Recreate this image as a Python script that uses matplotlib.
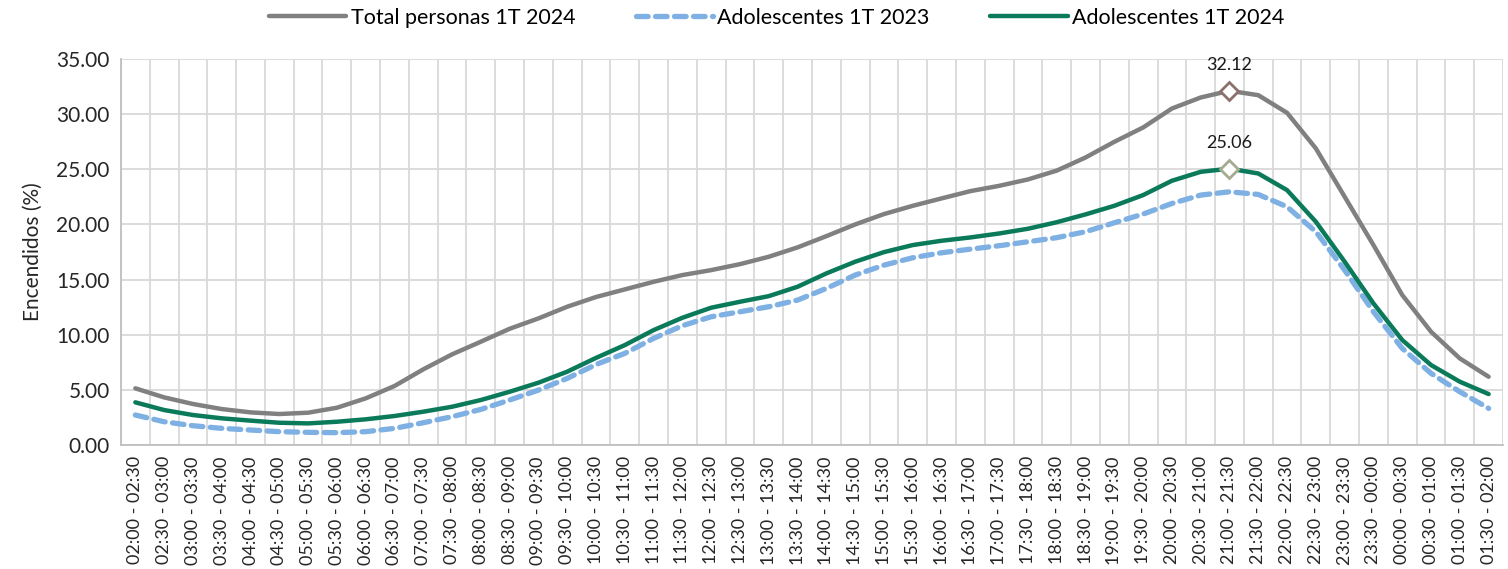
import matplotlib
matplotlib.use('Agg')
import matplotlib.pyplot as plt
from matplotlib.ticker import MultipleLocator, FormatStrFormatter

plt.rcParams['font.family'] = ['Lato', 'DejaVu Sans']

# Franjas horarias de media hora
franjas = [
    '02:00 - 02:30', '02:30 - 03:00', '03:00 - 03:30', '03:30 - 04:00',
    '04:00 - 04:30', '04:30 - 05:00', '05:00 - 05:30', '05:30 - 06:00',
    '06:00 - 06:30', '06:30 - 07:00', '07:00 - 07:30', '07:30 - 08:00',
    '08:00 - 08:30', '08:30 - 09:00', '09:00 - 09:30', '09:30 - 10:00',
    '10:00 - 10:30', '10:30 - 11:00', '11:00 - 11:30', '11:30 - 12:00',
    '12:00 - 12:30', '12:30 - 13:00', '13:00 - 13:30', '13:30 - 14:00',
    '14:00 - 14:30', '14:30 - 15:00', '15:00 - 15:30', '15:30 - 16:00',
    '16:00 - 16:30', '16:30 - 17:00', '17:00 - 17:30', '17:30 - 18:00',
    '18:00 - 18:30', '18:30 - 19:00', '19:00 - 19:30', '19:30 - 20:00',
    '20:00 - 20:30', '20:30 - 21:00', '21:00 - 21:30', '21:30 - 22:00',
    '22:00 - 22:30', '22:30 - 23:00', '23:00 - 23:30', '23:30 - 00:00',
    '00:00 - 00:30', '00:30 - 01:00', '01:00 - 01:30', '01:30 - 02:00',
]

total_2024 = [
    5.14, 4.32, 3.72, 3.26, 2.96, 2.81, 2.93, 3.38, 4.23, 5.35, 6.86, 8.22,
    9.37, 10.54, 11.48, 12.54, 13.42, 14.11, 14.80, 15.41, 15.86, 16.40, 17.07, 17.92,
    18.94, 20.00, 20.94, 21.69, 22.36, 23.02, 23.50, 24.08, 24.88, 26.07, 27.49, 28.79,
    30.51, 31.51, 32.12, 31.72, 30.12, 26.89, 22.51, 18.13, 13.60, 10.27, 7.85, 6.19,
]

adol_2023 = [
    2.72, 2.11, 1.75, 1.51, 1.36, 1.21, 1.15, 1.12, 1.21, 1.51, 2.02, 2.57,
    3.23, 4.08, 4.98, 6.04, 7.30, 8.31, 9.67, 10.82, 11.63, 12.08, 12.54, 13.14,
    14.20, 15.41, 16.31, 16.98, 17.43, 17.76, 18.07, 18.43, 18.80, 19.34, 20.15, 20.94,
    21.90, 22.66, 22.96, 22.72, 21.60, 19.34, 15.86, 12.08, 8.76, 6.50, 4.83, 3.32,
]

adol_2024 = [
    3.87, 3.17, 2.72, 2.42, 2.21, 2.02, 1.96, 2.11, 2.33, 2.63, 3.02, 3.47,
    4.08, 4.83, 5.65, 6.65, 7.90, 9.06, 10.42, 11.54, 12.45, 12.99, 13.50, 14.35,
    15.56, 16.62, 17.49, 18.13, 18.52, 18.82, 19.18, 19.61, 20.20, 20.91, 21.69, 22.66,
    23.96, 24.77, 25.06, 24.62, 23.11, 20.24, 16.62, 12.84, 9.52, 7.25, 5.74, 4.62,
]

x = list(range(len(franjas)))

fig = plt.figure(figsize=(15.08, 5.69), dpi=100)
ax = fig.add_axes([0.0802, 0.2179, 0.9165, 0.6784])

ax.plot(x, total_2024, color='#808080', linewidth=3.2, label='Total personas 1T 2024',
        solid_capstyle='round', zorder=3)
ax.plot(x, adol_2023, color='#7EB0E3', linewidth=3.8, linestyle=(0, (2.2, 1.4)),
        dash_capstyle='round', label='Adolescentes 1T 2023', zorder=3)
ax.plot(x, adol_2024, color='#0A7A5A', linewidth=3.2, label='Adolescentes 1T 2024',
        solid_capstyle='round', zorder=4)

# Marcadores de los máximos
i_max = total_2024.index(max(total_2024))
ax.plot(x[i_max], total_2024[i_max], marker='D', markersize=9, markerfacecolor='white',
        markeredgecolor='#8B706C', markeredgewidth=2.0, zorder=5)
ax.annotate(f'{total_2024[i_max]:.2f}', (x[i_max], total_2024[i_max]), xytext=(0, 13),
            textcoords='offset points', ha='center', va='bottom', fontsize=13, color='#1a1a1a')
j_max = adol_2024.index(max(adol_2024))
ax.plot(x[j_max], adol_2024[j_max], marker='D', markersize=9, markerfacecolor='white',
        markeredgecolor='#A3AC8E', markeredgewidth=2.0, zorder=5)
ax.annotate(f'{adol_2024[j_max]:.2f}', (x[j_max], adol_2024[j_max]), xytext=(0, 13),
            textcoords='offset points', ha='center', va='bottom', fontsize=13, color='#1a1a1a')

ax.set_xlim(-0.5, len(franjas) - 0.5)
ax.set_ylim(0, 35)
ax.yaxis.set_major_locator(MultipleLocator(5))
ax.yaxis.set_major_formatter(FormatStrFormatter('%.2f'))
ax.set_xticks(x)
ax.set_xticklabels(franjas, rotation=90, fontsize=13, color='#262626')
ax.set_xticks([i - 0.5 for i in range(len(franjas) + 1)], minor=True)
ax.tick_params(axis='both', which='both', length=0)
ax.tick_params(axis='y', labelsize=15, labelcolor='#262626', pad=8)
ax.tick_params(axis='x', pad=8)

ax.grid(True, axis='y', which='major', color='#d9d9d9', linewidth=1.3)
ax.grid(True, axis='x', which='minor', color='#d9d9d9', linewidth=1.3)
ax.grid(False, axis='x', which='major')
ax.set_axisbelow(True)
for s in ax.spines.values():
    s.set_visible(False)
ax.spines['left'].set_visible(True)
ax.spines['bottom'].set_visible(True)
ax.spines['left'].set_color('#bfbfbf')
ax.spines['bottom'].set_color('#bfbfbf')
ax.spines['left'].set_linewidth(1.3)
ax.spines['bottom'].set_linewidth(1.3)

ax.set_ylabel('Encendidos (%)', fontsize=15, color='#262626', labelpad=10)

fig.legend(loc='upper center', bbox_to_anchor=(0.515, 1.02), ncol=3, frameon=False,
           fontsize=15.5, handlelength=3.6, handletextpad=0.2, columnspacing=2.8)

fig.savefig('out.png', dpi=100)
